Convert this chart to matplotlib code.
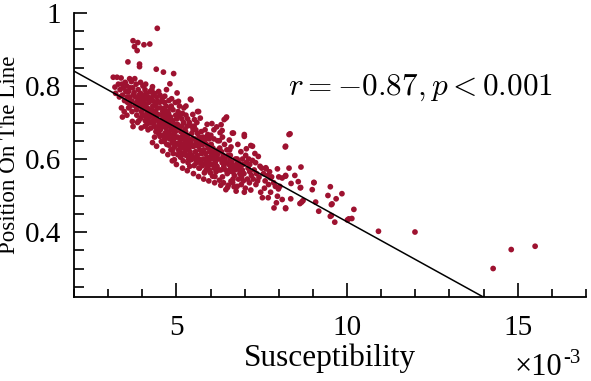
import matplotlib
matplotlib.use("Agg")
import matplotlib.pyplot as plt
from matplotlib.ticker import MultipleLocator, FixedLocator

# ---------------- data (susceptibility in units of 1e-3) ----------------
core_pts = [
    # x 3.1-3.5
    (3.15,0.824),(3.26,0.824),(3.38,0.822),(3.20,0.797),(3.30,0.805),(3.35,0.790),(3.22,0.780),
    (3.42,0.775),(3.39,0.740),(3.42,0.715),(3.48,0.760),(3.45,0.795),(3.33,0.770),(3.47,0.730),(3.50,0.810),
    # x 3.5-3.75
    (3.58,0.866),(3.55,0.800),(3.60,0.785),(3.62,0.770),(3.57,0.755),(3.65,0.745),(3.70,0.730),(3.71,0.703),
    (3.73,0.689),(3.68,0.812),(3.63,0.820),(3.72,0.795),(3.55,0.720),(3.66,0.760),(3.74,0.775),(3.60,0.740),
    # x 3.75-4.0
    (3.73,0.924),(3.87,0.919),(3.77,0.908),(3.85,0.897),(3.92,0.860),(3.92,0.853),(3.78,0.820),(3.82,0.805),
    (3.88,0.790),(3.95,0.780),(3.80,0.770),(3.86,0.758),(3.93,0.745),(3.97,0.730),(3.84,0.720),(3.90,0.705),
    (3.97,0.685),(3.80,0.745),(3.95,0.810),(3.99,0.765),(3.83,0.735),(3.91,0.775),
    # x 4.0-4.25
    (4.05,0.913),(4.22,0.915),(4.02,0.800),(4.08,0.790),(4.12,0.780),(4.18,0.770),(4.03,0.760),(4.10,0.750),
    (4.15,0.740),(4.20,0.730),(4.06,0.720),(4.13,0.710),(4.22,0.700),(4.08,0.690),(4.17,0.680),(4.24,0.760),
    (4.01,0.735),(4.11,0.765),(4.19,0.755),(4.23,0.785),(4.05,0.775),(4.14,0.725),(4.21,0.715),(4.09,0.705),
    # x 4.25-4.5
    (4.44,0.958),(4.41,0.846),(4.28,0.790),(4.35,0.780),(4.42,0.770),(4.30,0.760),(4.38,0.750),(4.45,0.740),
    (4.27,0.735),(4.33,0.725),(4.40,0.715),(4.47,0.705),(4.29,0.700),(4.36,0.690),(4.43,0.680),(4.36,0.660),
    (4.48,0.670),(4.31,0.745),(4.39,0.732),(4.46,0.722),(4.26,0.765),(4.44,0.758),(4.34,0.708),(4.49,0.690),(4.32,0.775),
    # x 4.5-4.75
    (4.62,0.838),(4.71,0.790),(4.56,0.648),(4.52,0.775),(4.58,0.765),(4.65,0.755),(4.70,0.745),(4.54,0.740),
    (4.60,0.730),(4.67,0.720),(4.73,0.710),(4.55,0.705),(4.62,0.695),(4.69,0.685),(4.74,0.675),(4.53,0.680),
    (4.59,0.665),(4.66,0.655),(4.72,0.640),(4.57,0.720),(4.64,0.738),(4.68,0.700),(4.51,0.755),(4.61,0.710),
    (4.74,0.730),(4.70,0.660),
    # x 4.75-5.0
    (4.92,0.834),(4.81,0.806),(4.97,0.755),(4.94,0.598),(4.78,0.760),(4.85,0.745),(4.90,0.735),(4.77,0.725),
    (4.83,0.715),(4.89,0.705),(4.96,0.695),(4.79,0.690),(4.86,0.680),(4.93,0.670),(4.99,0.660),(4.80,0.655),
    (4.88,0.645),(4.95,0.635),(4.84,0.625),(4.91,0.615),(4.82,0.740),(4.98,0.720),(4.87,0.700),(4.76,0.705),
    (4.94,0.685),(4.90,0.660),
    # x 5.0-5.25
    (5.02,0.781),(5.22,0.740),(5.14,0.617),(5.05,0.730),(5.10,0.720),(5.16,0.710),(5.21,0.700),(5.03,0.695),
    (5.08,0.685),(5.13,0.675),(5.19,0.665),(5.24,0.655),(5.04,0.660),(5.11,0.650),(5.17,0.640),(5.23,0.630),
    (5.06,0.625),(5.12,0.605),(5.20,0.595),(5.09,0.745),(5.18,0.725),(5.01,0.710),(5.15,0.690),(5.07,0.640),(5.25,0.680),
    # x 5.25-5.5
    (5.41,0.764),(5.43,0.762),(5.43,0.598),(5.28,0.720),(5.33,0.710),(5.38,0.700),(5.44,0.690),(5.49,0.680),
    (5.27,0.675),(5.32,0.665),(5.37,0.655),(5.42,0.645),(5.47,0.635),(5.30,0.640),(5.35,0.630),(5.40,0.620),
    (5.46,0.610),(5.29,0.610),(5.36,0.600),(5.48,0.655),(5.31,0.690),(5.45,0.670),(5.39,0.580),(5.26,0.650),
    # x 5.5-5.75
    (5.62,0.730),(5.65,0.730),(5.53,0.708),(5.58,0.589),(5.52,0.690),(5.57,0.680),(5.62,0.670),(5.67,0.660),
    (5.72,0.650),(5.54,0.655),(5.59,0.645),(5.64,0.635),(5.69,0.625),(5.74,0.615),(5.56,0.620),(5.61,0.610),
    (5.66,0.600),(5.71,0.590),(5.55,0.600),(5.70,0.640),(5.73,0.675),(5.60,0.700),(5.68,0.575),(5.51,0.635),
    # x 5.75-6.0
    (5.92,0.667),(5.82,0.562),(5.78,0.660),(5.83,0.650),(5.88,0.640),(5.93,0.630),(5.98,0.620),(5.80,0.625),
    (5.85,0.615),(5.90,0.605),(5.95,0.595),(5.79,0.600),(5.86,0.590),(5.91,0.580),(5.97,0.570),(5.84,0.680),
    (5.96,0.655),(5.77,0.640),(5.89,0.660),(5.99,0.600),
    # x 6.0-6.25
    (6.04,0.697),(6.18,0.688),(6.06,0.553),(6.02,0.640),(6.07,0.630),(6.12,0.620),(6.17,0.610),(6.22,0.600),
    (6.03,0.610),(6.09,0.600),(6.14,0.590),(6.19,0.580),(6.24,0.570),(6.05,0.585),(6.11,0.575),(6.16,0.565),
    (6.21,0.650),(6.10,0.655),(6.23,0.625),(6.01,0.665),
    # x 6.25-6.5
    (6.31,0.694),(6.34,0.678),(6.35,0.660),(6.35,0.551),(6.45,0.712),(6.47,0.715),(6.40,0.708),(6.45,0.516),
    (6.27,0.630),(6.32,0.620),(6.37,0.610),(6.42,0.600),(6.47,0.590),(6.29,0.600),(6.34,0.590),(6.39,0.580),
    (6.44,0.570),(6.49,0.560),(6.30,0.570),(6.41,0.640),(6.48,0.625),(6.26,0.650),
    # x 6.5-6.75
    (6.64,0.671),(6.67,0.671),(6.60,0.633),(6.55,0.566),(6.60,0.539),(6.69,0.524),(6.52,0.610),(6.57,0.600),
    (6.62,0.590),(6.67,0.580),(6.72,0.570),(6.54,0.585),(6.59,0.575),(6.64,0.565),(6.70,0.555),(6.56,0.625),
    (6.73,0.600),(6.66,0.545),
    # x 6.75-7.0
    (6.99,0.662),(6.99,0.667),(6.84,0.571),(6.99,0.509),(6.78,0.600),(6.83,0.590),(6.88,0.580),(6.93,0.570),
    (6.98,0.560),(6.80,0.575),(6.86,0.560),(6.91,0.550),(6.96,0.540),(6.82,0.545),(6.94,0.600),(6.89,0.620),
    # x 7.0-7.5
    (7.18,0.637),(7.23,0.635),(7.23,0.596),(7.40,0.607),(7.33,0.530),(7.47,0.509),(7.05,0.590),(7.10,0.575),
    (7.15,0.565),(7.20,0.555),(7.28,0.570),(7.35,0.560),(7.42,0.550),(7.08,0.545),(7.14,0.535),(7.25,0.545),
    (7.38,0.540),(7.45,0.580),(7.03,0.610),(7.12,0.600),
    # x 7.5-8.0
    (7.62,0.576),(7.63,0.573),(7.96,0.573),(7.79,0.551),(7.76,0.548),(8.00,0.551),(7.52,0.494),(7.69,0.494),
    (7.76,0.509),(7.96,0.498),(7.99,0.518),(7.93,0.480),(7.86,0.466),(7.55,0.560),(7.60,0.540),(7.70,0.530),
    (7.85,0.535),(7.90,0.525),(7.58,0.520),(7.73,0.565),
    # x 8.0-10.2
    (8.03,0.525),(8.10,0.548),(8.20,0.553),(8.20,0.466),(8.20,0.635),(8.30,0.667),(8.33,0.669),(8.19,0.633),
    (8.65,0.578),(8.30,0.575),(8.47,0.555),(8.20,0.555),(8.57,0.538),(9.03,0.536),(8.36,0.533),(8.63,0.521),
    (8.98,0.516),(8.10,0.489),(8.35,0.491),(8.67,0.482),(8.62,0.478),(8.71,0.486),(9.08,0.482),(9.56,0.477),
    (8.20,0.464),(9.17,0.457),(9.51,0.443),(10.05,0.436),(10.20,0.462),(10.14,0.437),(10.01,0.433),(9.64,0.427),
    (9.54,0.445),(9.85,0.505),(9.51,0.524),(9.03,0.535),(8.64,0.522),(9.44,0.500),(9.68,0.491),(9.54,0.475),
]
core_pts_extra = [
    (3.52,0.785),(3.64,0.795),(3.76,0.782),(3.89,0.768),(3.98,0.752),(4.04,0.742),(4.16,0.733),(4.27,0.722),
    (4.37,0.712),(4.50,0.700),(4.58,0.690),(4.68,0.672),(4.80,0.668),(4.92,0.650),(5.02,0.642),(5.14,0.632),
    (5.26,0.622),(5.38,0.612),(5.50,0.602),(5.63,0.592),(5.76,0.582),(5.88,0.572),(6.00,0.562),(6.13,0.552),
    (6.26,0.542),(6.38,0.535),(6.52,0.528),(6.65,0.535),(6.78,0.525),(6.90,0.530),(7.02,0.520),(7.18,0.515),
    (4.30,0.645),(4.42,0.635),(4.60,0.622),(4.75,0.612),(4.88,0.595),(5.00,0.585),(5.18,0.575),(5.32,0.568),
    (5.50,0.560),(5.65,0.552),(5.80,0.545),(5.95,0.540),(6.12,0.535),(6.30,0.528),(6.50,0.522),(6.75,0.512),
    (3.86,0.700),(3.96,0.712),(4.14,0.695),(4.26,0.685),(4.40,0.675),(4.52,0.662),(4.64,0.648),(4.78,0.638),
    (4.90,0.628),(5.04,0.612),(5.22,0.612),(5.34,0.590),(5.52,0.582),(5.66,0.575),(5.84,0.565),(5.98,0.585),
    (4.10,0.805),(4.30,0.798),(4.48,0.785),(4.66,0.772),(4.86,0.765),(5.06,0.758),(5.28,0.745),(5.48,0.722),
    (5.70,0.712),(5.90,0.695),(6.10,0.680),(6.28,0.672),(6.55,0.652),(6.80,0.640),(7.05,0.628),(7.30,0.615),
    (3.40,0.805),(3.56,0.770),(3.70,0.758),(3.82,0.752),(4.00,0.720),(4.18,0.712),(4.34,0.698),(4.55,0.688),
    (4.72,0.695),(4.97,0.675),(5.16,0.658),(5.36,0.642),(5.56,0.640),(5.78,0.620),(6.00,0.625),(6.20,0.612),
    (6.38,0.595),(6.58,0.610),(6.76,0.585),(6.95,0.585),(7.15,0.585),(7.32,0.590),(7.50,0.575),(7.68,0.555),
]
outlier_pts = [(10.92,0.402),(11.99,0.400),(14.28,0.300),(14.81,0.352),(15.51,0.361)]

all_pts = core_pts + core_pts_extra + outlier_pts
susceptibility = [p[0] for p in all_pts]
position = [p[1] for p in all_pts]

fit_intercept = 0.944
fit_slope = -0.0516
annotation = r"$r=-0.87, p<0.001$"

x_major = [5, 10, 15]
y_major = [0.4, 0.6, 0.8, 1.0]
y_major_labels = ["0.4", "0.6", "0.8", "1"]

# ---------------- plotting ----------------
serif = "Liberation Serif"
fig = plt.figure(figsize=(5.91, 3.81), dpi=100)
ax = fig.add_axes([0.1252, 0.2205, 0.8663, 0.7454])

ax.scatter(susceptibility, position, s=17, color="#9e1230", edgecolors="none", zorder=2)
ax.axline((0, fit_intercept), slope=fit_slope, color="black", lw=1.1, zorder=3)

ax.set_xlim(2, 17)
ax.set_ylim(0.222, 1.0)

for s in ["top", "right"]:
    ax.spines[s].set_visible(False)
for s in ["left", "bottom"]:
    ax.spines[s].set_linewidth(1.3)

ax.xaxis.set_major_locator(FixedLocator(x_major))
ax.xaxis.set_minor_locator(MultipleLocator(1))
ax.yaxis.set_major_locator(FixedLocator(y_major))
ax.yaxis.set_minor_locator(MultipleLocator(0.05))
ax.set_xticklabels([str(v) for v in x_major], fontfamily=serif, fontsize=21)
ax.set_yticklabels(y_major_labels, fontfamily=serif, fontsize=21)

ax.tick_params(axis="x", which="major", direction="in", length=10, width=1.2, pad=13)
ax.tick_params(axis="x", which="minor", direction="in", length=5.5, width=1.2)
ax.tick_params(axis="y", which="major", direction="in", length=9, width=1.2, pad=9)
ax.tick_params(axis="y", which="minor", direction="in", length=7, width=1.2)

ax.set_xlabel("Susceptibility", fontfamily=serif, fontsize=22.5, labelpad=2)
ax.set_ylabel("Position On The Line", fontfamily=serif, fontsize=16.6, labelpad=4)

ax.text(0.676, 0.736, annotation, transform=ax.transAxes, fontsize=22.5,
        math_fontfamily="cm", ha="center", va="center")

fig.text(515 / 591, 1 - 375 / 381, "\u00d710", fontfamily=serif, fontsize=22,
         ha="left", va="baseline")
fig.text(563 / 591, 1 - 363 / 381, "-3", fontfamily=serif, fontsize=15,
         ha="left", va="baseline")

fig.savefig("out.png", dpi=100)
